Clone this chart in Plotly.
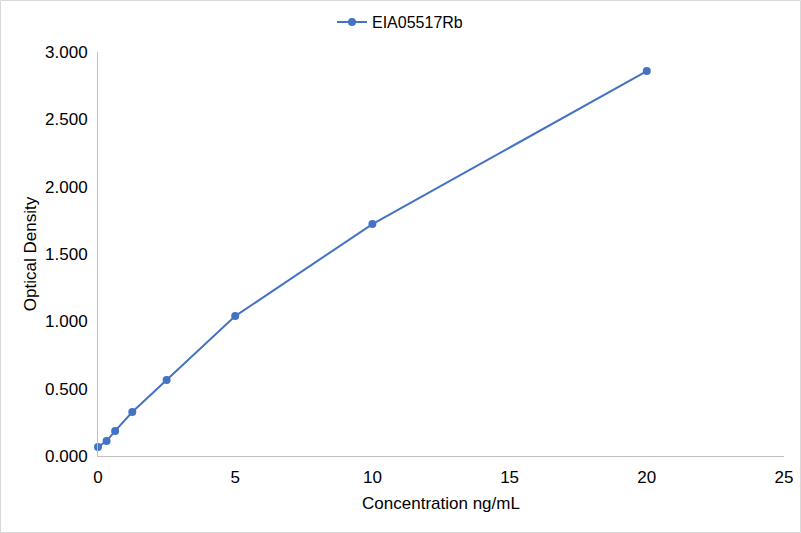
import plotly.graph_objects as go

# Standard curve readings
concentration = [0, 0.3125, 0.625, 1.25, 2.5, 5, 10, 20]
optical_density = [0.067, 0.111, 0.186, 0.327, 0.564, 1.039, 1.722, 2.858]
series_name = "EIA05517Rb"

fig = go.Figure()
fig.add_trace(go.Scatter(
    x=concentration,
    y=optical_density,
    mode="lines+markers",
    name=series_name,
    line=dict(color="#4472C4", width=2),
    marker=dict(color="#4472C4", size=8),
    cliponaxis=False,
))

fig.update_layout(
    width=801,
    height=533,
    paper_bgcolor="white",
    plot_bgcolor="white",
    font=dict(family="Liberation Sans, Arial", size=17, color="#000000"),
    margin=dict(l=98, r=17, t=52, b=77, autoexpand=False),
    showlegend=True,
    # legend is centred on the whole figure, not the plot area
    legend=dict(orientation="h", x=(400 - 98) / 686, xanchor="center", y=1.074,
                yanchor="middle", font=dict(size=16)),
    xaxis=dict(
        range=[0, 25],
        tickvals=[0, 5, 10, 15, 20, 25],
        showgrid=False,
        zeroline=False,
        showline=True,
        linecolor="#BFBFBF",
        linewidth=1,
        ticks="",
        ticklabelstandoff=6,
        title=dict(text="Concentration ng/mL", font=dict(size=17), standoff=10),
    ),
    yaxis=dict(
        range=[0, 3],
        tickvals=[0, 0.5, 1, 1.5, 2, 2.5, 3],
        tickformat=".3f",
        showgrid=False,
        zeroline=False,
        showline=True,
        linecolor="#BFBFBF",
        linewidth=1,
        ticks="",
        ticklabelstandoff=6,
        title=dict(text="Optical Density", font=dict(size=17), standoff=4),
    ),
    shapes=[dict(type="rect", xref="paper", yref="paper",
                 x0=-97.5 / 686, x1=1 + 16.5 / 686, y0=-76.5 / 404, y1=1 + 51.5 / 404,
                 line=dict(color="#D9D9D9", width=1))],
)

# drop the page's default body margin so the chart sits at the window corner
fig.write_html("out.html", config={"displayModeBar": False},
               post_script="document.body.style.margin='0px';")
